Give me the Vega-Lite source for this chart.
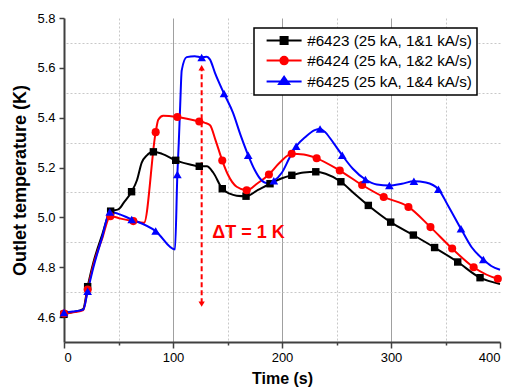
{
  "$schema": "https://vega.github.io/schema/vega-lite/v6.json",
  "width": 436,
  "height": 324,
  "autosize": {"type": "none"},
  "padding": {"left": 64, "top": 18, "right": 12, "bottom": 48},
  "background": "white",
  "config": {
    "view": {"stroke": null},
    "font": "Liberation Sans",
    "axis": {
      "labelFont": "Liberation Sans",
      "titleFont": "Liberation Sans",
      "labelColor": "#000000",
      "titleColor": "#000000",
      "labelFontSize": 13,
      "titleFontWeight": "bold",
      "domainColor": "#404040",
      "domainWidth": 2,
      "tickColor": "#404040",
      "tickWidth": 1.5,
      "labelOverlap": false,
      "grid": true
    }
  },
  "resolve": {"axis": {"y": "independent"}},
  "datasets": {
    "runs": [
      {"s": "#6423 (25 kA, 1&1 kA/s)", "t": 0, "T": 4.611, "m": 1},
      {"s": "#6423 (25 kA, 1&1 kA/s)", "t": 8, "T": 4.62, "m": 0},
      {"s": "#6423 (25 kA, 1&1 kA/s)", "t": 17.5, "T": 4.632, "m": 0},
      {"s": "#6423 (25 kA, 1&1 kA/s)", "t": 21.7, "T": 4.722, "m": 1},
      {"s": "#6423 (25 kA, 1&1 kA/s)", "t": 27, "T": 4.82, "m": 0},
      {"s": "#6423 (25 kA, 1&1 kA/s)", "t": 35, "T": 4.93, "m": 0},
      {"s": "#6423 (25 kA, 1&1 kA/s)", "t": 42.8, "T": 5.025, "m": 1},
      {"s": "#6423 (25 kA, 1&1 kA/s)", "t": 49.8, "T": 5.032, "m": 0},
      {"s": "#6423 (25 kA, 1&1 kA/s)", "t": 55, "T": 5.06, "m": 0},
      {"s": "#6423 (25 kA, 1&1 kA/s)", "t": 62, "T": 5.103, "m": 1},
      {"s": "#6423 (25 kA, 1&1 kA/s)", "t": 67, "T": 5.15, "m": 0},
      {"s": "#6423 (25 kA, 1&1 kA/s)", "t": 71.3, "T": 5.22, "m": 0},
      {"s": "#6423 (25 kA, 1&1 kA/s)", "t": 75.8, "T": 5.248, "m": 0},
      {"s": "#6423 (25 kA, 1&1 kA/s)", "t": 82, "T": 5.263, "m": 1},
      {"s": "#6423 (25 kA, 1&1 kA/s)", "t": 90, "T": 5.255, "m": 0},
      {"s": "#6423 (25 kA, 1&1 kA/s)", "t": 102.5, "T": 5.229, "m": 1},
      {"s": "#6423 (25 kA, 1&1 kA/s)", "t": 115.6, "T": 5.212, "m": 0},
      {"s": "#6423 (25 kA, 1&1 kA/s)", "t": 124.1, "T": 5.205, "m": 1},
      {"s": "#6423 (25 kA, 1&1 kA/s)", "t": 131, "T": 5.205, "m": 0},
      {"s": "#6423 (25 kA, 1&1 kA/s)", "t": 137, "T": 5.179, "m": 0},
      {"s": "#6423 (25 kA, 1&1 kA/s)", "t": 145.2, "T": 5.115, "m": 1},
      {"s": "#6423 (25 kA, 1&1 kA/s)", "t": 152, "T": 5.095, "m": 0},
      {"s": "#6423 (25 kA, 1&1 kA/s)", "t": 158.4, "T": 5.087, "m": 0},
      {"s": "#6423 (25 kA, 1&1 kA/s)", "t": 167, "T": 5.085, "m": 1},
      {"s": "#6423 (25 kA, 1&1 kA/s)", "t": 178, "T": 5.11, "m": 0},
      {"s": "#6423 (25 kA, 1&1 kA/s)", "t": 189, "T": 5.135, "m": 1},
      {"s": "#6423 (25 kA, 1&1 kA/s)", "t": 200, "T": 5.157, "m": 0},
      {"s": "#6423 (25 kA, 1&1 kA/s)", "t": 209, "T": 5.169, "m": 1},
      {"s": "#6423 (25 kA, 1&1 kA/s)", "t": 220, "T": 5.18, "m": 0},
      {"s": "#6423 (25 kA, 1&1 kA/s)", "t": 231, "T": 5.183, "m": 1},
      {"s": "#6423 (25 kA, 1&1 kA/s)", "t": 240, "T": 5.175, "m": 0},
      {"s": "#6423 (25 kA, 1&1 kA/s)", "t": 254, "T": 5.143, "m": 1},
      {"s": "#6423 (25 kA, 1&1 kA/s)", "t": 266, "T": 5.097, "m": 0},
      {"s": "#6423 (25 kA, 1&1 kA/s)", "t": 279.2, "T": 5.048, "m": 1},
      {"s": "#6423 (25 kA, 1&1 kA/s)", "t": 299.7, "T": 4.981, "m": 1},
      {"s": "#6423 (25 kA, 1&1 kA/s)", "t": 320.5, "T": 4.929, "m": 1},
      {"s": "#6423 (25 kA, 1&1 kA/s)", "t": 340, "T": 4.879, "m": 1},
      {"s": "#6423 (25 kA, 1&1 kA/s)", "t": 361.2, "T": 4.821, "m": 1},
      {"s": "#6423 (25 kA, 1&1 kA/s)", "t": 381.7, "T": 4.758, "m": 1},
      {"s": "#6423 (25 kA, 1&1 kA/s)", "t": 400, "T": 4.733, "m": 0},
      {"s": "#6424 (25 kA, 1&2 kA/s)", "t": 0, "T": 4.614, "m": 1},
      {"s": "#6424 (25 kA, 1&2 kA/s)", "t": 10, "T": 4.62, "m": 0},
      {"s": "#6424 (25 kA, 1&2 kA/s)", "t": 17.7, "T": 4.628, "m": 0},
      {"s": "#6424 (25 kA, 1&2 kA/s)", "t": 21.7, "T": 4.711, "m": 1},
      {"s": "#6424 (25 kA, 1&2 kA/s)", "t": 27, "T": 4.81, "m": 0},
      {"s": "#6424 (25 kA, 1&2 kA/s)", "t": 35, "T": 4.915, "m": 0},
      {"s": "#6424 (25 kA, 1&2 kA/s)", "t": 42.5, "T": 5.005, "m": 1},
      {"s": "#6424 (25 kA, 1&2 kA/s)", "t": 52, "T": 4.995, "m": 0},
      {"s": "#6424 (25 kA, 1&2 kA/s)", "t": 63.6, "T": 4.985, "m": 1},
      {"s": "#6424 (25 kA, 1&2 kA/s)", "t": 73.4, "T": 4.978, "m": 0},
      {"s": "#6424 (25 kA, 1&2 kA/s)", "t": 84.1, "T": 5.342, "m": 1},
      {"s": "#6424 (25 kA, 1&2 kA/s)", "t": 86.5, "T": 5.392, "m": 0},
      {"s": "#6424 (25 kA, 1&2 kA/s)", "t": 91, "T": 5.408, "m": 0},
      {"s": "#6424 (25 kA, 1&2 kA/s)", "t": 104, "T": 5.403, "m": 1},
      {"s": "#6424 (25 kA, 1&2 kA/s)", "t": 124.1, "T": 5.385, "m": 1},
      {"s": "#6424 (25 kA, 1&2 kA/s)", "t": 129.4, "T": 5.379, "m": 0},
      {"s": "#6424 (25 kA, 1&2 kA/s)", "t": 134, "T": 5.37, "m": 0},
      {"s": "#6424 (25 kA, 1&2 kA/s)", "t": 139, "T": 5.31, "m": 0},
      {"s": "#6424 (25 kA, 1&2 kA/s)", "t": 145.2, "T": 5.228, "m": 1},
      {"s": "#6424 (25 kA, 1&2 kA/s)", "t": 150, "T": 5.175, "m": 0},
      {"s": "#6424 (25 kA, 1&2 kA/s)", "t": 158.4, "T": 5.123, "m": 0},
      {"s": "#6424 (25 kA, 1&2 kA/s)", "t": 167.6, "T": 5.109, "m": 1},
      {"s": "#6424 (25 kA, 1&2 kA/s)", "t": 177, "T": 5.135, "m": 0},
      {"s": "#6424 (25 kA, 1&2 kA/s)", "t": 188, "T": 5.172, "m": 1},
      {"s": "#6424 (25 kA, 1&2 kA/s)", "t": 198, "T": 5.22, "m": 0},
      {"s": "#6424 (25 kA, 1&2 kA/s)", "t": 208.9, "T": 5.255, "m": 1},
      {"s": "#6424 (25 kA, 1&2 kA/s)", "t": 220, "T": 5.252, "m": 0},
      {"s": "#6424 (25 kA, 1&2 kA/s)", "t": 231.8, "T": 5.237, "m": 1},
      {"s": "#6424 (25 kA, 1&2 kA/s)", "t": 253, "T": 5.188, "m": 1},
      {"s": "#6424 (25 kA, 1&2 kA/s)", "t": 273.5, "T": 5.13, "m": 1},
      {"s": "#6424 (25 kA, 1&2 kA/s)", "t": 293.3, "T": 5.082, "m": 1},
      {"s": "#6424 (25 kA, 1&2 kA/s)", "t": 316, "T": 5.042, "m": 1},
      {"s": "#6424 (25 kA, 1&2 kA/s)", "t": 336.2, "T": 4.961, "m": 1},
      {"s": "#6424 (25 kA, 1&2 kA/s)", "t": 356.1, "T": 4.875, "m": 1},
      {"s": "#6424 (25 kA, 1&2 kA/s)", "t": 375.8, "T": 4.8, "m": 1},
      {"s": "#6424 (25 kA, 1&2 kA/s)", "t": 398, "T": 4.754, "m": 1},
      {"s": "#6424 (25 kA, 1&2 kA/s)", "t": 400, "T": 4.752, "m": 0},
      {"s": "#6425 (25 kA, 1&4 kA/s)", "t": 0, "T": 4.618, "m": 1},
      {"s": "#6425 (25 kA, 1&4 kA/s)", "t": 8, "T": 4.622, "m": 0},
      {"s": "#6425 (25 kA, 1&4 kA/s)", "t": 17.7, "T": 4.63, "m": 0},
      {"s": "#6425 (25 kA, 1&4 kA/s)", "t": 21.7, "T": 4.704, "m": 1},
      {"s": "#6425 (25 kA, 1&4 kA/s)", "t": 27, "T": 4.8, "m": 0},
      {"s": "#6425 (25 kA, 1&4 kA/s)", "t": 35, "T": 4.92, "m": 0},
      {"s": "#6425 (25 kA, 1&4 kA/s)", "t": 42, "T": 5.022, "m": 1},
      {"s": "#6425 (25 kA, 1&4 kA/s)", "t": 62.1, "T": 4.992, "m": 1},
      {"s": "#6425 (25 kA, 1&4 kA/s)", "t": 84.1, "T": 4.945, "m": 1},
      {"s": "#6425 (25 kA, 1&4 kA/s)", "t": 101.8, "T": 4.871, "m": 0},
      {"s": "#6425 (25 kA, 1&4 kA/s)", "t": 104, "T": 5.172, "m": 1},
      {"s": "#6425 (25 kA, 1&4 kA/s)", "t": 105.3, "T": 5.3, "m": 0},
      {"s": "#6425 (25 kA, 1&4 kA/s)", "t": 106.6, "T": 5.45, "m": 0},
      {"s": "#6425 (25 kA, 1&4 kA/s)", "t": 108, "T": 5.59, "m": 0},
      {"s": "#6425 (25 kA, 1&4 kA/s)", "t": 112.5, "T": 5.643, "m": 0},
      {"s": "#6425 (25 kA, 1&4 kA/s)", "t": 120, "T": 5.647, "m": 0},
      {"s": "#6425 (25 kA, 1&4 kA/s)", "t": 126.3, "T": 5.642, "m": 1},
      {"s": "#6425 (25 kA, 1&4 kA/s)", "t": 131, "T": 5.645, "m": 0},
      {"s": "#6425 (25 kA, 1&4 kA/s)", "t": 134, "T": 5.633, "m": 0},
      {"s": "#6425 (25 kA, 1&4 kA/s)", "t": 138.5, "T": 5.58, "m": 0},
      {"s": "#6425 (25 kA, 1&4 kA/s)", "t": 146.8, "T": 5.497, "m": 1},
      {"s": "#6425 (25 kA, 1&4 kA/s)", "t": 155, "T": 5.42, "m": 0},
      {"s": "#6425 (25 kA, 1&4 kA/s)", "t": 162, "T": 5.33, "m": 0},
      {"s": "#6425 (25 kA, 1&4 kA/s)", "t": 169, "T": 5.249, "m": 1},
      {"s": "#6425 (25 kA, 1&4 kA/s)", "t": 175, "T": 5.19, "m": 0},
      {"s": "#6425 (25 kA, 1&4 kA/s)", "t": 180, "T": 5.155, "m": 0},
      {"s": "#6425 (25 kA, 1&4 kA/s)", "t": 186, "T": 5.138, "m": 0},
      {"s": "#6425 (25 kA, 1&4 kA/s)", "t": 192.5, "T": 5.147, "m": 1},
      {"s": "#6425 (25 kA, 1&4 kA/s)", "t": 200, "T": 5.18, "m": 0},
      {"s": "#6425 (25 kA, 1&4 kA/s)", "t": 207, "T": 5.24, "m": 0},
      {"s": "#6425 (25 kA, 1&4 kA/s)", "t": 213, "T": 5.285, "m": 1},
      {"s": "#6425 (25 kA, 1&4 kA/s)", "t": 222, "T": 5.325, "m": 0},
      {"s": "#6425 (25 kA, 1&4 kA/s)", "t": 230, "T": 5.35, "m": 0},
      {"s": "#6425 (25 kA, 1&4 kA/s)", "t": 234.9, "T": 5.355, "m": 1},
      {"s": "#6425 (25 kA, 1&4 kA/s)", "t": 240, "T": 5.34, "m": 0},
      {"s": "#6425 (25 kA, 1&4 kA/s)", "t": 247, "T": 5.3, "m": 0},
      {"s": "#6425 (25 kA, 1&4 kA/s)", "t": 255.3, "T": 5.249, "m": 1},
      {"s": "#6425 (25 kA, 1&4 kA/s)", "t": 265, "T": 5.195, "m": 0},
      {"s": "#6425 (25 kA, 1&4 kA/s)", "t": 276.5, "T": 5.152, "m": 1},
      {"s": "#6425 (25 kA, 1&4 kA/s)", "t": 287, "T": 5.132, "m": 0},
      {"s": "#6425 (25 kA, 1&4 kA/s)", "t": 298.5, "T": 5.128, "m": 1},
      {"s": "#6425 (25 kA, 1&4 kA/s)", "t": 310, "T": 5.135, "m": 0},
      {"s": "#6425 (25 kA, 1&4 kA/s)", "t": 321, "T": 5.145, "m": 1},
      {"s": "#6425 (25 kA, 1&4 kA/s)", "t": 332, "T": 5.14, "m": 0},
      {"s": "#6425 (25 kA, 1&4 kA/s)", "t": 343.5, "T": 5.113, "m": 1},
      {"s": "#6425 (25 kA, 1&4 kA/s)", "t": 352, "T": 5.05, "m": 0},
      {"s": "#6425 (25 kA, 1&4 kA/s)", "t": 364.2, "T": 4.954, "m": 1},
      {"s": "#6425 (25 kA, 1&4 kA/s)", "t": 374, "T": 4.88, "m": 0},
      {"s": "#6425 (25 kA, 1&4 kA/s)", "t": 384.7, "T": 4.831, "m": 1},
      {"s": "#6425 (25 kA, 1&4 kA/s)", "t": 392, "T": 4.805, "m": 0},
      {"s": "#6425 (25 kA, 1&4 kA/s)", "t": 400, "T": 4.79, "m": 0}
    ]
  },
  "layer": [
    {
      "data": {"values": [{"t": 126.3, "y1": 4.655, "y2": 5.598}]},
      "mark": {"type": "rule", "color": "#ff0000", "strokeWidth": 2, "strokeDash": [5, 3]},
      "encoding": {
        "x": {"field": "t", "type": "quantitative"},
        "y": {
          "field": "y1", "type": "quantitative",
          "axis": {
            "orient": "right",
            "title": null,
            "labels": false,
            "ticks": false,
            "domain": false,
            "values": [4.7, 4.9, 5.1, 5.3, 5.5, 5.7],
            "gridColor": "#c8c8c8",
            "gridDash": [2, 2]
          }
        },
        "y2": {"field": "y2"}
      }
    },
    {
      "data": {"name": "runs"},
      "mark": {"type": "line", "interpolate": "monotone", "strokeWidth": 2},
      "encoding": {
        "x": {
          "field": "t", "type": "quantitative",
          "scale": {"domain": [0, 400], "nice": false},
          "axis": {
            "title": "Time (s)",
            "titleFontSize": 16,
            "titlePadding": 6,
            "labelPadding": 3,
            "values": [0, 50, 100, 150, 200, 250, 300, 350, 400],
            "labelExpr": "datum.value % 100 == 0 ? format(datum.value, 'd') : ''",
            "tickSize": {"condition": {"test": "datum.value % 100 != 0", "value": 3}, "value": 6},
            "gridColor": {"condition": {"test": "datum.value % 100 != 0", "value": "#c8c8c8"}, "value": "#a0a0a0"},
            "gridDash": {"condition": {"test": "datum.value % 100 != 0", "value": [2, 2]}, "value": []},
            "gridOpacity": {"condition": {"test": "datum.value >= 400 || datum.value <= 0", "value": 0}, "value": 1}
          }
        },
        "y": {
          "field": "T", "type": "quantitative",
          "scale": {"domain": [4.5, 5.8], "nice": false, "zero": false},
          "axis": {
            "orient": "left",
            "title": "Outlet temperature (K)",
            "titleFontSize": 18,
            "titlePadding": 7,
            "labelPadding": 4,
            "tickSize": 5,
            "format": ".1f",
            "values": [4.6, 4.8, 5.0, 5.2, 5.4, 5.6, 5.8],
            "gridColor": "#a0a0a0",
            "gridOpacity": {"condition": {"test": "datum.value > 5.75", "value": 0}, "value": 1}
          }
        },
        "color": {
          "field": "s", "type": "nominal",
          "scale": {"range": ["#000000", "#ff0000", "#0000ff"]},
          "legend": {
            "title": null,
            "orient": "none",
            "legendX": 190,
            "legendY": 10,
            "padding": 5,
            "fillColor": "white",
            "strokeColor": "#000000",
            "labelFont": "Liberation Sans",
            "labelFontSize": 15.2,
            "labelColor": "#000000",
            "labelLimit": 400,
            "labelOffset": 33,
            "rowPadding": 3,
            "symbolSize": 100,
            "encode": {
              "legend": {"update": {"strokeWidth": {"value": 1.5}}},
              "symbols": {
                "update": {
                  "shape": {"signal": "datum.index == 0 ? 'M0,0H7M2.8,-0.7H4.2V0.7H2.8Z' : datum.index == 1 ? 'M0,0H7M2.75,0A0.75,0.75 0 1,0 4.25,0A0.75,0.75 0 1,0 2.75,0Z' : 'M0,0H7M3.5,-0.95L4.5,0.5L2.5,0.5Z'"},
                  "size": {"value": 100},
                  "fill": {"scale": "color", "field": "value"},
                  "stroke": {"scale": "color", "field": "value"},
                  "strokeWidth": {"value": 2},
                  "opacity": {"value": 1}
                }
              }
            }
          }
        }
      }
    },
    {
      "data": {"values": [{"t": 126.3, "y": 5.6}]},
      "mark": {"type": "point", "shape": "triangle-up", "filled": true, "color": "#ff0000", "size": 40, "opacity": 1},
      "encoding": {
        "x": {"field": "t", "type": "quantitative"},
        "y": {"field": "y", "type": "quantitative", "axis": null}
      }
    },
    {
      "data": {"values": [{"t": 126.3, "y": 4.652}]},
      "mark": {"type": "point", "shape": "triangle-down", "filled": true, "color": "#ff0000", "size": 40, "opacity": 1},
      "encoding": {
        "x": {"field": "t", "type": "quantitative"},
        "y": {"field": "y", "type": "quantitative", "axis": null}
      }
    },
    {
      "data": {"values": [{"t": 136, "y": 4.937, "label": "ΔT = 1 K"}]},
      "mark": {"type": "text", "align": "left", "baseline": "middle", "font": "Liberation Sans", "fontWeight": "bold", "fontSize": 18, "color": "#ff0000"},
      "encoding": {
        "x": {"field": "t", "type": "quantitative"},
        "y": {"field": "y", "type": "quantitative", "axis": null},
        "text": {"field": "label"}
      }
    },
    {
      "data": {"name": "runs"},
      "transform": [{"filter": "datum.m == 1"}],
      "mark": {"type": "point", "filled": true, "opacity": 1, "strokeWidth": 0},
      "encoding": {
        "x": {"field": "t", "type": "quantitative"},
        "y": {"field": "T", "type": "quantitative", "axis": null},
        "color": {"field": "s", "type": "nominal"},
        "shape": {"field": "s", "type": "nominal", "scale": {"range": ["square", "circle", "triangle-up"]}, "legend": null},
        "size": {"field": "s", "type": "nominal", "scale": {"range": [55, 75, 120]}, "legend": null}
      }
    }
  ]
}
